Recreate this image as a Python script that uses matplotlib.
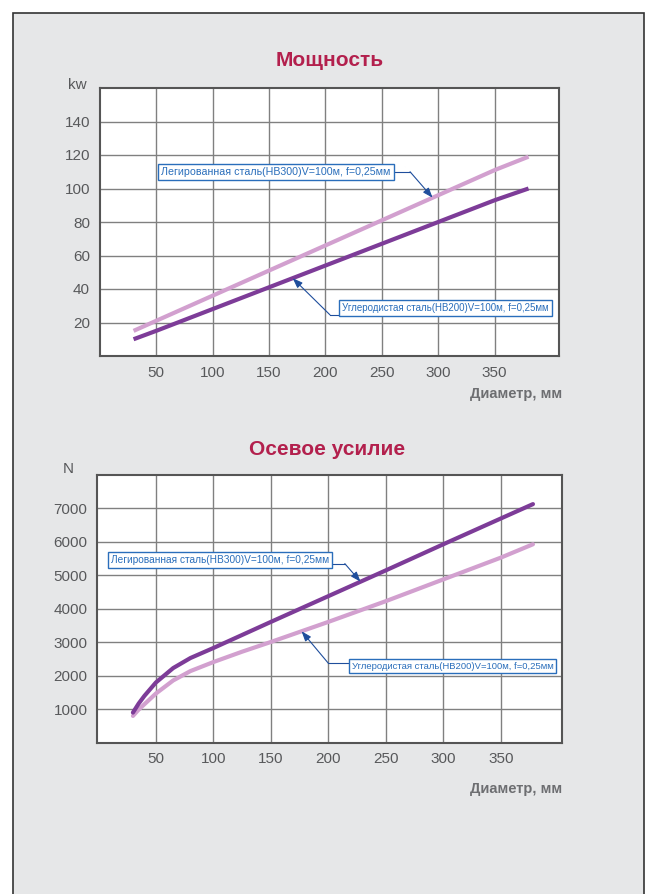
import numpy as np
import matplotlib.pyplot as plt
from matplotlib.patches import Rectangle

# top chart - power, kW
power_x = [30, 50, 100, 150, 200, 250, 300, 350, 380]
power_alloy = [15, 21, 36, 51, 66, 81, 96, 111, 119]
power_carbon = [10, 15, 28, 41, 54, 67, 80, 93, 100]
power_ticks = [20, 40, 60, 80, 100, 120, 140]

# bottom chart - thrust, N
thrust_x = [30, 35, 40, 50, 65, 80, 100, 125, 150, 200, 250, 300, 350, 378]
thrust_alloy = [900, 1170, 1400, 1800, 2230, 2530, 2830, 3220, 3610, 4380, 5150, 5930, 6700, 7130]
thrust_carbon = [800, 990, 1150, 1470, 1860, 2140, 2410, 2720, 3010, 3610, 4230, 4880, 5530, 5930]
thrust_ticks = [1000, 2000, 3000, 4000, 5000, 6000, 7000]

x_ticks = [50, 100, 150, 200, 250, 300, 350]

label_alloy = "Легированная сталь(HB300)V=100м, f=0,25мм"
label_carbon = "Углеродистая сталь(HB200)V=100м, f=0,25мм"

DARK = "#7d3c98"
LIGHT = "#d2a0cf"
TITLE = "#b3204d"
TICK = "#58595b"
BLUE = "#2a6ebb"
ARROW = "#1f4e9c"

plt.rcParams["font.family"] = ["Liberation Sans", "DejaVu Sans"]

W, H = 649, 894
fig = plt.figure(figsize=(W / 100, H / 100), dpi=100)
fig.patch.set_facecolor("white")
fig.patches.append(Rectangle((13 / W, -0.01), 631 / W, 881 / H + 0.01,
                             transform=fig.transFigure, facecolor="#e6e7e8",
                             edgecolor="#333333", lw=1.2, zorder=-5))


def callout(ax, text, tx, ty, line_x, elbow, tip_x, xs, ys, size):
    """Boxed label with an elbow arrow pointing at the curve."""
    tip_y = np.interp(tip_x, xs, ys)
    ax.text(tx, ty, text, ha="left", va="center", fontsize=size, color=BLUE,
            family=["Liberation Sans Narrow", "Liberation Sans"],
            bbox=dict(boxstyle="square,pad=0.3", fc="white", ec=BLUE, lw=1.0),
            zorder=6)
    ax.plot([line_x, elbow[0]], [elbow[1], elbow[1]], color=ARROW, lw=0.8, zorder=5)
    ax.annotate("", xy=(tip_x, tip_y), xytext=elbow, zorder=5,
                arrowprops=dict(arrowstyle="-|>,head_length=0.6,head_width=0.22",
                                color=ARROW, lw=0.8, shrinkA=0, shrinkB=0))


def setup_axes(ax, xlim, ylim, yticks):
    ax.set_xlim(*xlim)
    ax.set_ylim(*ylim)
    ax.set_xticks(x_ticks)
    ax.set_yticks(yticks)
    ax.tick_params(length=0, pad=7, labelsize=11, labelcolor=TICK)
    ax.grid(True, color="#808080", lw=1.0)
    ax.set_axisbelow(True)
    for s in ax.spines.values():
        s.set_color("#555555")
        s.set_linewidth(1.5)


# --- power chart ---
ax1 = fig.add_axes([99.7 / W, 1 - 356 / H, 459.3 / W, 268 / H])
setup_axes(ax1, (0, 407), (0, 160), power_ticks)
ax1.plot(power_x, power_alloy, color=LIGHT, lw=3.0, solid_capstyle="butt", zorder=3)
ax1.plot(power_x, power_carbon, color=DARK, lw=3.0, solid_capstyle="butt", zorder=3)
callout(ax1, label_alloy, 54.7, 110, 200, (275, 110), 295, power_x, power_alloy, 7.7)
callout(ax1, label_carbon, 215, 28.8, 300, (204, 24.6), 171, power_x, power_carbon, 7.05)

fig.text(330 / W, 1 - 60 / H, "Мощность", ha="center", va="center",
         fontsize=15, fontweight="bold", color=TITLE)
fig.text(77 / W, 1 - 85 / H, "kw", ha="center", va="center", fontsize=11, color=TICK)
fig.text(562 / W, 1 - 394 / H, "Диаметр, мм", ha="right", va="center",
         fontsize=10.5, fontweight="bold", color="#6d6e71")

# --- thrust chart ---
ax2 = fig.add_axes([97.3 / W, 1 - 742.7 / H, 464.4 / W, 267.7 / H])
setup_axes(ax2, (-1, 403), (0, 8000), thrust_ticks)
ax2.plot(thrust_x, thrust_carbon, color=LIGHT, lw=3.0, solid_capstyle="round",
         solid_joinstyle="round", zorder=3)
ax2.plot(thrust_x, thrust_alloy, color=DARK, lw=3.0, solid_capstyle="round",
         solid_joinstyle="round", zorder=3)
callout(ax2, label_alloy, 11, 5447, 100, (214.3, 5352), 228, thrust_x, thrust_alloy, 7.3)
callout(ax2, label_carbon, 220.4, 2290, 300, (199.8, 2382), 176.7, thrust_x, thrust_carbon, 6.8)

fig.text(327 / W, 1 - 449 / H, "Осевое усилие", ha="center", va="center",
         fontsize=15, fontweight="bold", color=TITLE)
fig.text(68 / W, 1 - 469 / H, "N", ha="center", va="center", fontsize=11, color=TICK)
fig.text(562 / W, 1 - 789 / H, "Диаметр, мм", ha="right", va="center",
         fontsize=10.5, fontweight="bold", color="#6d6e71")

fig.savefig("out.png", dpi=100)
